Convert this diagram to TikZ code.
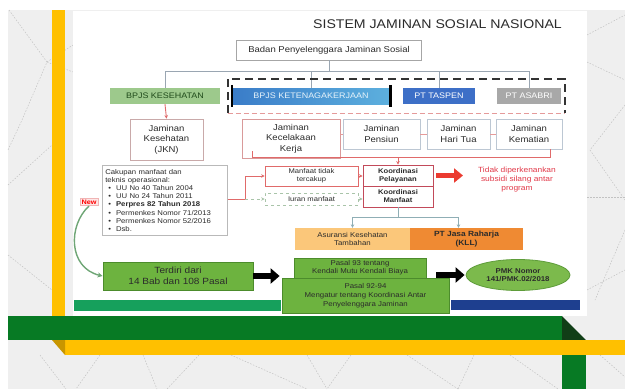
\documentclass[tikz,border=0pt]{standalone}
\usepackage{fontspec}
\setmainfont{Liberation Sans}[FakeStretch=1.12]
\usetikzlibrary{arrows.meta,shapes.geometric,calc}

\definecolor{bgc}{HTML}{EFEFEF}
\definecolor{trig}{HTML}{C2C2C2}
\definecolor{ylw}{HTML}{FFC000}
\definecolor{dkylw}{HTML}{C89600}
\definecolor{grn}{HTML}{077A24}
\definecolor{dkgrn}{HTML}{113E17}
\definecolor{kesc}{HTML}{9DC98C}
\definecolor{kest}{HTML}{1F4A1A}
\definecolor{tkl}{HTML}{3A7CC8}
\definecolor{tkr}{HTML}{5DB0DE}
\definecolor{tasc}{HTML}{3D6FC7}
\definecolor{asac}{HTML}{A8A8A8}
\definecolor{hubc}{HTML}{9AA6B2}
\definecolor{dashk}{HTML}{333333}
\definecolor{dashr}{HTML}{E59A9A}
\definecolor{jknb}{HTML}{C9A9A9}
\definecolor{jkkb}{HTML}{D99A9A}
\definecolor{penb}{HTML}{BCC7D3}
\definecolor{redl}{HTML}{E06A6A}
\definecolor{redt}{HTML}{E23A4A}
\definecolor{redarr}{HTML}{EB3B30}
\definecolor{koorb}{HTML}{C24A5A}
\definecolor{iurb}{HTML}{A9C4A9}
\definecolor{tealc}{HTML}{8FAEB5}
\definecolor{asuc}{HTML}{FBC77A}
\definecolor{jasac}{HTML}{EF8A33}
\definecolor{txtd}{HTML}{2B2B2B}
\definecolor{gboxc}{HTML}{6DB33F}
\definecolor{gboxb}{HTML}{4C8C2C}
\definecolor{pmkc}{HTML}{7CBA4C}
\definecolor{pmkb}{HTML}{5E9C3A}
\definecolor{stripg}{HTML}{16A05C}
\definecolor{stripb}{HTML}{1E3F8F}
\definecolor{newf}{HTML}{FDE6E6}
\definecolor{newb}{HTML}{F0B4B4}
\definecolor{curvec}{HTML}{6FA676}

\tikzset{
 tri/.style={draw=trig, line width=0.5pt, dash pattern=on 1.5pt off 1.5pt},
 hub/.style={draw=hubc, line width=0.7pt},
 hdr/.style={minimum height=16, inner sep=0, font=\fontsize{8}{9}\selectfont},
 rowbox/.style={draw, line width=0.7pt, fill=white, align=center, inner sep=0, text=txtd, font=\fontsize{8.5}{10.5}\selectfont},
 redln/.style={draw=redl, line width=0.9pt},
 smtip/.style={-{Stealth[length=3.5pt,width=3.5pt]}},
 midbox/.style={draw, line width=0.7pt, fill=white, align=center, inner sep=0, text=txtd, font=\fontsize{6.8}{8}\selectfont},
 koor/.style={draw=koorb, line width=0.8pt, fill=white, align=center, inner sep=0, text=txtd, minimum width=70, minimum height=21, font=\fontsize{6.8}{8}\selectfont\bfseries},
 grnbox/.style={draw=gboxb, line width=0.8pt, fill=gboxc, align=center, inner sep=0, text=txtd},
 blkarrow/.style={line width=6pt, draw=black, -{Triangle[length=9pt,width=15pt]}},
}
\newcommand{\bl}{\hspace*{3pt}\textbullet\hspace{5pt}}

\begin{document}
\begin{tikzpicture}[x=1pt,y=-1pt]
\useasboundingbox (0,0) rectangle (625,389);
\fill[white] (0,0) rectangle (625,389);
\fill[bgc] (8,10) rectangle (625,389);

% faint triangulation of the slide background
\begin{scope}
 \draw[tri] (9,10) -- (47,62) -- (22,120) -- (8,150);
 \draw[tri] (47,62) -- (73,45);
 \draw[tri] (47,62) -- (73,72);
 \draw[tri] (8,185) -- (52,145);
 \draw[tri] (8,255) -- (52,290);
 \draw[tri] (587,35) -- (625,15);
 \draw[tri] (587,62) -- (625,80);
 \draw[tri] (625,105) -- (590,150) -- (625,200);
 \draw[tri] (587,197) -- (625,197);
 \draw[tri] (587,290) -- (625,270);
 \draw[tri] (625,230) -- (595,300);
 \draw[tri] (40,355) -- (66,389);
 \draw[tri] (100,355) -- (76,389);
 \draw[tri] (143,355) -- (157,389);
 \draw[tri] (199,355) -- (167,389);
 \draw[tri] (231,355) -- (307,389);
 \draw[tri] (307,355) -- (327,389);
 \draw[tri] (351,355) -- (327,389);
 \draw[tri] (407,355) -- (458,389);
 \draw[tri] (474,355) -- (458,389);
 \draw[tri] (510,355) -- (558,389);
 \draw[tri] (600,355) -- (625,377);
\end{scope}

\fill[ylw] (52,10) rectangle (65,316);
\fill[white] (73,11) rectangle (587,316);

% title and root
\node[anchor=east, text=txtd, font=\fontsize{12.6}{13}\selectfont, inner sep=0] (title) at (562,24) {SISTEM JAMINAN SOSIAL NASIONAL};
\node[draw=gray!70, line width=0.8pt, minimum width=185, minimum height=20, inner sep=0, text=txtd, font=\fontsize{8.5}{9}\selectfont] (badan) at (329,50) {Badan Penyelenggara Jaminan Sosial};

% header boxes
\node[hdr, fill=kesc, text=kest, minimum width=110] (bpjsk) at (165,96) {BPJS KESEHATAN};
\node[hdr, left color=tkl, right color=tkr, text=white!85!tkr, minimum width=158] (bpjstk) at (311,96) {BPJS KETENAGAKERJAAN};
\node[hdr, fill=tasc, text=white, minimum width=72] (taspen) at (439,96) {PT TASPEN};
\node[hdr, fill=asac, text=white, minimum width=64] (asabri) at (529,96) {PT ASABRI};
\draw[line width=2.6pt, black] ($(bpjstk.north west)+(0,-3)$) -- ($(bpjstk.south west)+(0,3)$);
\draw[line width=2.6pt, black] ($(bpjstk.north east)+(0,-3)$) -- ($(bpjstk.south east)+(0,3)$);

% hub lines
\coordinate (hy) at (0,71);
\draw[hub] (badan.south) -- (badan.south |- hy);
\draw[hub] (bpjsk.north) |- (asabri.north |- hy) -- (asabri.north);
\draw[hub] (bpjstk.north |- hy) -- (bpjstk.north);
\draw[hub] (taspen.north |- hy) -- (taspen.north);

% dashed group
\node[minimum width=337, minimum height=34, inner sep=0] (grp) at (396.5,96) {};
\draw[dashk, line width=1.6pt, dash pattern=on 8pt off 5pt] (grp.south west) |- (grp.north east) -- (grp.south east);
\draw[dashr, line width=1.2pt, dash pattern=on 5pt off 3pt] (grp.south west) -- (grp.south east);

% programme boxes
\node[rowbox, draw=jknb, minimum width=73, minimum height=41] (jkn) at (166.5,139.5) {Jaminan\\Kesehatan\\(JKN)};
\node[rowbox, draw=jkkb, minimum width=98, minimum height=39] (jkk) at (291,138.5) {Jaminan\\Kecelakaan\\Kerja};
\node[rowbox, draw=penb, minimum width=77, minimum height=30] (pensiun) at (381.5,134) {Jaminan\\Pensiun};
\node[rowbox, draw=penb, minimum width=63, minimum height=30] (jht) at (458.5,134) {Jaminan\\Hari Tua};
\node[rowbox, draw=penb, minimum width=66, minimum height=30] (jkm) at (529,134) {Jaminan\\Kematian};
\draw[draw=dashr, line width=0.6pt] (pensiun.west -| jkk.east) -- (pensiun.west);
\draw[draw=dashr, line width=0.6pt] (pensiun.east) -- (jht.west);
\draw[draw=dashr, line width=0.6pt] (jht.east) -- (jkm.west);

% red connectors
\draw[redln, smtip] (bpjsk.south) -- (jkn.north);

% coordination part
\node[draw=gray!55, line width=0.7pt, anchor=north west, minimum width=125, minimum height=70, text width=119, align=left, inner sep=3pt, text=txtd, font=\fontsize{6.9}{8.2}\selectfont] (cakupan) at (102,165) {Cakupan manfaat dan\\teknis operasional:\\
\bl UU No 40 Tahun 2004\\
\bl UU No 24 Tahun 2011\\
\bl\textbf{Perpres 82 Tahun 2018}\\
\bl Permenkes Nomor 71/2013\\
\bl Permenkes Nomor 52/2016\\
\bl Dsb.};
\node[fill=newf, draw=newb, line width=0.6pt, text=red, inner sep=1.5pt, font=\fontsize{6.5}{7}\selectfont\bfseries] (newlbl) at (89,202) {New};

\node[midbox, draw=redl, minimum width=93, minimum height=20] (manfaat) at (311.5,176) {Manfaat tidak\\tercakup};
\node[midbox, draw=iurb, dashed, minimum width=93, minimum height=12] (iuran) at (311.5,199) {Iuran manfaat};
\node[koor] (kpel) at (398,175.5) {Koordinasi\\Pelayanan};
\node[koor] (kman) at (398,196.5) {Koordinasi\\Manfaat};

\coordinate (rb) at (252,157);
\coordinate (jkmr) at ($(jkm.south)+(21,0)$);
\draw[redln] ($(rb)+(0,-6)$) -- (rb) -- (rb -| jkmr) -- (jkmr);
\draw[redln, smtip] (rb -| kpel.north) -- (kpel.north);

\coordinate (cj) at (245,199);
\draw[redln] (cakupan.east |- cj) -- (cj);
\draw[redln, smtip] (cj) |- (manfaat.west);
\draw[draw=iurb, line width=0.8pt, dashed, smtip] (cj) -- (iuran.west);
\draw[redln, smtip] (manfaat.east) -- (manfaat.east -| kpel.west);
\draw[draw=iurb, line width=0.8pt, smtip] (iuran.east) -- (iuran.east -| kman.west);

\node[text=redt, align=center, inner sep=0, font=\fontsize{7.5}{9}\selectfont] (tidak) at (517,180) {Tidak diperkenankan\\subsidi silang antar\\program};
\coordinate (ra) at (463,175.5);
\draw[line width=5pt, draw=redarr, -{Triangle[length=9pt,width=14pt]}] ($(kpel.east)+(3,0)$) -- (ra);

\node[fill=asuc, align=center, inner sep=0, minimum width=115, minimum height=22, text=txtd, font=\fontsize{7}{8.5}\selectfont] (asuransi) at (352.5,239) {Asuransi Kesehatan\\Tambahan};
\node[fill=jasac, align=center, inner sep=0, minimum width=113, minimum height=22, text=txtd, font=\fontsize{7.5}{9}\selectfont\bfseries] (jasa) at (466.5,239) {PT Jasa Raharja\\(KLL)};
\draw[draw=tealc, line width=0.8pt] (kman.south) -- ++(0,10) coordinate (kb);
\coordinate (jn) at ($(jasa.north)+(-8,0)$);
\draw[draw=tealc, line width=0.8pt] (asuransi.north |- kb) -- (jn |- kb);
\draw[draw=tealc, line width=0.8pt, smtip] (asuransi.north |- kb) -- (asuransi.north);
\draw[draw=tealc, line width=0.8pt, smtip] (jn |- kb) -- (jn);

% bottom row
\fill[stripg] (74,300) rectangle (281,311);
\fill[stripb] (451,300) rectangle (580,310);
\node[grnbox, minimum width=150, minimum height=28, font=\fontsize{9}{11}\selectfont] (terdiri) at (178,276) {Terdiri dari\\14 Bab dan 108 Pasal};
\node[grnbox, minimum width=132, minimum height=20, font=\fontsize{7}{8.2}\selectfont] (pasal1) at (360,268) {Pasal 93 tentang\\Kendali Mutu Kendali Biaya};
\node[grnbox, minimum width=167, minimum height=35, font=\fontsize{7}{9}\selectfont] (pasal2) at (365.5,295.5) {Pasal 92-94\\Mengatur tentang Koordinasi Antar\\Penyelenggara Jaminan};
\node[ellipse, fill=pmkc, draw=pmkb, line width=0.8pt, minimum width=104, minimum height=31, inner sep=0, align=center, text=txtd, font=\fontsize{7}{8.5}\selectfont\bfseries] (pmk) at (518,275) {PMK Nomor\\141/PMK.02/2018};
\draw[blkarrow] (terdiri.east) -- ($(pasal2.west |- terdiri.east)+(-2,0)$);
\draw[blkarrow] ($(pasal1.east)+(10,7)$) -- ($(pmk.west)+(-1,0)$);
\draw[draw=curvec, line width=1.4pt, -{Stealth[length=5pt,width=5pt]}] (newlbl.south) .. controls (68,225) and (68,268) .. (terdiri.west);

% slide bars
\fill[grn] (8,316) rectangle (562,340);
\fill[dkgrn] (562,316) -- (562,340) -- (586,340) -- cycle;
\fill[ylw] (65,340) rectangle (625,355);
\fill[dkylw] (52,340) -- (65,340) -- (65,355) -- cycle;
\fill[grn] (562,355) rectangle (586,389);
\end{tikzpicture}
\end{document}
